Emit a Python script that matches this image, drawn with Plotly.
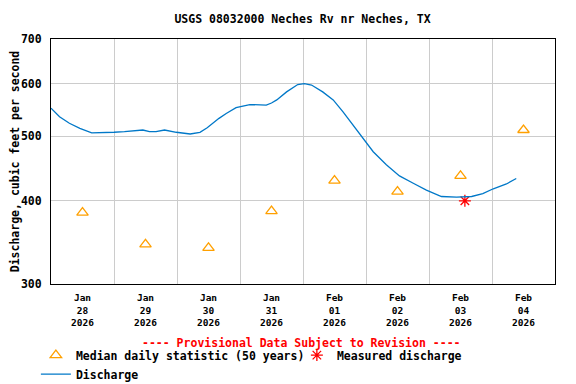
import plotly.graph_objects as go

# ---- data ----
discharge_time = [
    "2026-01-28 00:00", "2026-01-28 03:15", "2026-01-28 07:00", "2026-01-28 11:00",
    "2026-01-28 15:30", "2026-01-28 20:00", "2026-01-29 00:00", "2026-01-29 04:00",
    "2026-01-29 08:30", "2026-01-29 11:00", "2026-01-29 13:30", "2026-01-29 16:00",
    "2026-01-29 19:15", "2026-01-29 23:45", "2026-01-30 05:00", "2026-01-30 08:45",
    "2026-01-30 11:30", "2026-01-30 13:45", "2026-01-30 16:00", "2026-01-30 18:45",
    "2026-01-30 22:30", "2026-01-31 03:45", "2026-01-31 07:00", "2026-01-31 10:00",
    "2026-01-31 12:00", "2026-01-31 14:00", "2026-01-31 17:45", "2026-01-31 22:00",
    "2026-02-01 00:30", "2026-02-01 03:15", "2026-02-01 07:30", "2026-02-01 11:30",
    "2026-02-01 15:15", "2026-02-01 19:00", "2026-02-01 23:00", "2026-02-02 02:45",
    "2026-02-02 07:45", "2026-02-02 12:45", "2026-02-02 18:00", "2026-02-02 23:00",
    "2026-02-03 04:45", "2026-02-03 10:30", "2026-02-03 16:15", "2026-02-03 20:30",
    "2026-02-04 00:30", "2026-02-04 05:30", "2026-02-04 09:15",
]
discharge_cfs = [
    551, 535, 523, 514,
    506, 506, 507, 508,
    510, 511, 508, 508,
    511, 507, 504, 507,
    515, 524, 532, 541,
    552, 558, 558, 557,
    561, 567, 583, 598,
    600, 597, 583, 567,
    544, 520, 497, 474,
    453, 436, 425, 415,
    406, 405, 406, 410,
    417, 424, 432,
]

median_time = [
    "2026-01-28 12:00", "2026-01-29 12:00", "2026-01-30 12:00", "2026-01-31 12:00",
    "2026-02-01 12:00", "2026-02-02 12:00", "2026-02-03 12:00", "2026-02-04 12:00",
]
median_cfs = [384, 344, 340, 386, 429, 413, 436, 511]

measured_time = ["2026-02-03 13:40"]
measured_cfs = [400]

y_ticks = [300, 400, 500, 600, 700]
x_range = ["2026-01-28 00:00", "2026-02-05 00:00"]

FONT = "DejaVu Sans Mono"

fig = go.Figure()
fig.add_trace(go.Scatter(
    x=median_time, y=median_cfs, mode="markers",
    name="Median daily statistic (50 years)",
    marker=dict(symbol="triangle-up-open", size=10, color="#FFA000",
                line=dict(width=1.3, color="#FFA000")),
    legendwidth=216,
))
fig.add_trace(go.Scatter(
    x=measured_time, y=measured_cfs, mode="markers",
    name="Measured discharge",
    marker=dict(symbol="asterisk-open", size=10, color="#FF0000",
                line=dict(width=1.3, color="#FF0000")),
    legendwidth=216,
))
fig.add_trace(go.Scatter(
    x=discharge_time, y=discharge_cfs, mode="lines",
    name="Discharge",
    line=dict(color="#0078C8", width=1.3),
    legendwidth=216,
))

# page body has an 8px margin, so the figure is 8px smaller than the window
fig.update_layout(
    width=568, height=376,
    margin=dict(l=43, r=21, t=31, b=100, autoexpand=False),
    paper_bgcolor="white", plot_bgcolor="white",
    font=dict(family=FONT, size=11.5, color="black", weight="bold"),
    title=dict(text="USGS 08032000 Neches Rv nr Neches, TX",
               xref="container", x=0.5185, xanchor="center",
               y=0.9707, yanchor="middle",
               font=dict(family=FONT, size=11.5, weight="bold")),
    showlegend=True,
    legend=dict(orientation="h", x=-0.030, xanchor="left", y=-0.231, yanchor="top",
                font=dict(family=FONT, size=11.5, weight="bold"),
                bgcolor="rgba(0,0,0,0)", borderwidth=0, traceorder="normal"),
    annotations=[dict(
        text="---- Provisional Data Subject to Revision ----",
        xref="paper", yref="paper", x=0.497, y=-0.241,
        xanchor="center", yanchor="middle", showarrow=False,
        font=dict(family=FONT, size=11.5, color="#FF0000", weight="bold"),
    )],
)

fig.update_xaxes(
    type="date", range=x_range,
    dtick=86400000, tick0="2026-01-28",
    tickformat="%b<br>%d<br>%Y", ticklabelmode="period",
    showgrid=True, gridcolor="#CCCCCC", gridwidth=1,
    showline=True, linecolor="black", linewidth=1, mirror=True,
    ticks="", tickfont=dict(family=FONT, size=9.5, weight="bold"),
    ticklabelstandoff=5,
    zeroline=False, automargin=False,
)
fig.update_yaxes(
    type="log", range=[2.4771, 2.8451],
    tickmode="array", tickvals=y_ticks, ticktext=[str(v) for v in y_ticks],
    showgrid=True, gridcolor="#CCCCCC", gridwidth=1,
    showline=True, linecolor="black", linewidth=1, mirror=True,
    ticks="", tickfont=dict(family=FONT, size=11.5, weight="bold"),
    ticklabelstandoff=6,
    title=dict(text="Discharge, cubic feet per second",
               font=dict(family=FONT, size=11.5, weight="bold"), standoff=1),
    zeroline=False, automargin=False,
)

fig.write_html("out.html")
